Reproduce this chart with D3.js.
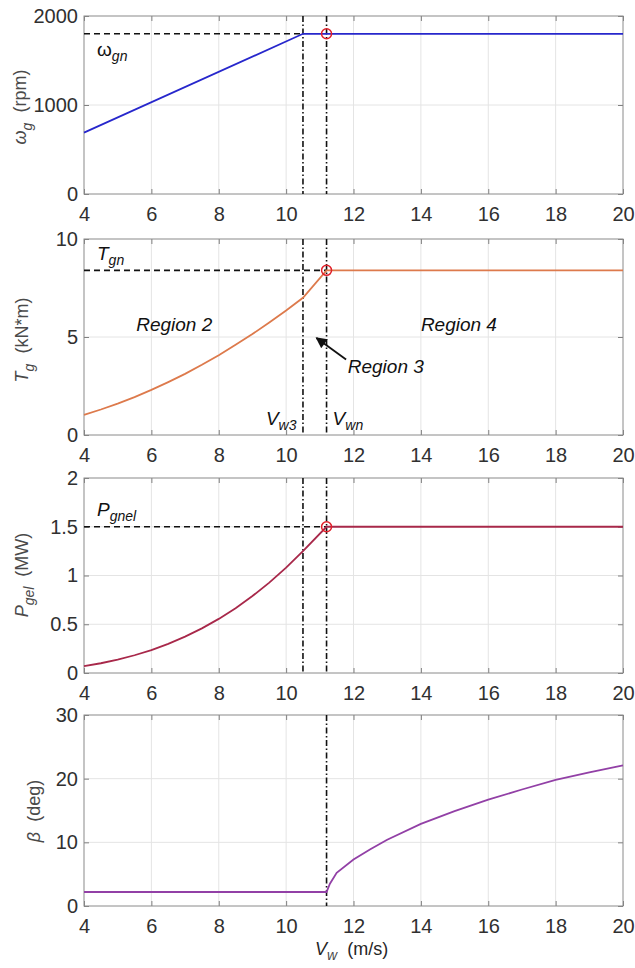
<!DOCTYPE html>
<html>
<head>
<meta charset="utf-8">
<title>Generator speed, torque, power and pitch vs wind speed</title>
<script src="https://cdn.jsdelivr.net/npm/d3@7/dist/d3.min.js"></script>
<style>
body { margin: 0; background: #fff; }
svg text { font-family: "Liberation Sans", Arial, Helvetica, sans-serif; }
.grid line { stroke: #e4e4e4; stroke-width: 1; }
.axis path { display: none; }
.axis line { stroke: #808080; }
.axis text { fill: #303030; font-size: 20px; }
.box { fill: none; stroke: #8a8a8a; stroke-width: 1; }
.ylabel { fill: #4a4a4a; font-size: 18px; }
.note { fill: #111; font-size: 19px; font-style: italic; }
</style>
</head>
<body>
<script>
// x axis (wind speed, m/s)
var windTicks = [4, 6, 8, 10, 12, 14, 16, 18, 20];
var vw3 = 10.5, vwn = 11.2;

// generator speed
var speedWind = [4, 10.5, 20];
var speedRpm = [690, 1800, 1800];
var ratedSpeed = 1800;
var speedTicks = [0, 1000, 2000];

// generator torque
var torqueWind = [4, 4.5, 5, 5.5, 6, 6.5, 7, 7.5, 8, 8.5, 9, 9.5, 10, 10.5, 11.2, 20];
var torqueKNm = [1.03, 1.3, 1.6, 1.93, 2.3, 2.7, 3.12, 3.58, 4.07, 4.6, 5.15, 5.74, 6.35, 7.0, 8.4, 8.4];
var ratedTorque = 8.4;
var torqueTicks = [0, 5, 10];

// electrical power
var powerWind = [4, 4.5, 5, 5.5, 6, 6.5, 7, 7.5, 8, 8.5, 9, 9.5, 10, 10.5, 11.2, 20];
var powerMW = [0.07, 0.1, 0.137, 0.182, 0.235, 0.299, 0.373, 0.458, 0.555, 0.665, 0.789, 0.927, 1.081, 1.25, 1.5, 1.5];
var ratedPower = 1.5;
var powerTicks = [0, 0.5, 1, 1.5, 2];

// pitch angle
var pitchWind = [4, 11.2, 11.3, 11.5, 12, 12.5, 13, 14, 15, 16, 17, 18, 19, 20];
var pitchDeg = [2.2, 2.2, 3.5, 5.2, 7.3, 8.9, 10.4, 12.9, 14.9, 16.7, 18.3, 19.8, 21.0, 22.1];
var pitchTicks = [0, 10, 20, 30];

var width = 635, height = 968,
    left = 84, right = 623;

var svg = d3.select("body").append("svg")
        .attr("width", width)
        .attr("height", height);

svg.append("defs").append("marker")
        .attr("id", "arrow")
        .attr("viewBox", "0 0 10 10")
        .attr("refX", 9).attr("refY", 5)
        .attr("markerWidth", 12).attr("markerHeight", 11)
        .attr("markerUnits", "userSpaceOnUse")
        .attr("orient", "auto")
        .append("path")
        .attr("d", "M0,0 L10,5 L0,10 z")
        .attr("fill", "#111");

var x = d3.scaleLinear().domain([4, 20]).range([left, right]);
var plain = function (d) { return String(d); };

function panel(top, bottom, yMax, yTicks) {
    var y = d3.scaleLinear().domain([0, yMax]).range([bottom, top]);
    var g = svg.append("g");

    var grid = g.append("g").attr("class", "grid");
    grid.selectAll("line.v").data(windTicks.slice(1, -1)).enter().append("line")
            .attr("x1", x).attr("x2", x).attr("y1", top).attr("y2", bottom);
    grid.selectAll("line.h").data(yTicks.slice(1, -1)).enter().append("line")
            .attr("x1", left).attr("x2", right)
            .attr("y1", y).attr("y2", y);

    g.append("g").attr("class", "axis")
            .attr("transform", "translate(0," + bottom + ")")
            .call(d3.axisBottom(x).tickValues(windTicks).tickSize(-5).tickPadding(13).tickFormat(plain));
    g.append("g").attr("class", "axis")
            .attr("transform", "translate(0," + top + ")")
            .call(d3.axisTop(x).tickValues(windTicks).tickSize(-5).tickFormat(""));
    g.append("g").attr("class", "axis")
            .attr("transform", "translate(" + left + ",0)")
            .call(d3.axisLeft(y).tickValues(yTicks).tickSize(-5).tickPadding(6).tickFormat(plain));
    g.append("g").attr("class", "axis")
            .attr("transform", "translate(" + right + ",0)")
            .call(d3.axisRight(y).tickValues(yTicks).tickSize(-5).tickFormat(""));

    g.append("rect").attr("class", "box")
            .attr("x", left).attr("y", top)
            .attr("width", right - left).attr("height", bottom - top);

    return {g: g, y: y, top: top, bottom: bottom};
}

function curve(p, xs, ys, color) {
    var line = d3.line()
            .x(function (d, i) { return x(xs[i]); })
            .y(function (d) { return p.y(d); });
    p.g.append("path")
            .attr("d", line(ys))
            .attr("fill", "none")
            .attr("stroke", color)
            .attr("stroke-width", 1.8);
}

function vline(p, v) {
    p.g.append("line")
            .attr("x1", x(v)).attr("x2", x(v))
            .attr("y1", p.top).attr("y2", p.bottom)
            .attr("stroke", "#111").attr("stroke-width", 1.6)
            .attr("stroke-dasharray", "6,2.5,1.5,2.5");
}

function hline(p, v0, v1, val) {
    p.g.append("line")
            .attr("x1", x(v0)).attr("x2", x(v1))
            .attr("y1", p.y(val)).attr("y2", p.y(val))
            .attr("stroke", "#111").attr("stroke-width", 1.6)
            .attr("stroke-dasharray", "6,4");
}

function knee(p, v, val) {
    p.g.append("circle")
            .attr("cx", x(v)).attr("cy", p.y(val)).attr("r", 5)
            .attr("fill", "none").attr("stroke", "#e0202a").attr("stroke-width", 1.5);
}

function ylabel(cx, cy, sym, sub, unit) {
    var t = svg.append("text").attr("class", "ylabel")
            .attr("text-anchor", "middle")
            .attr("transform", "translate(" + cx + "," + cy + ") rotate(-90)");
    t.append("tspan").text(sym).attr("font-style", "italic");
    if (sub) t.append("tspan").text(sub).attr("font-style", "italic")
            .attr("font-size", "14px").attr("dy", 6);
    t.append("tspan").text("\u00a0 " + unit).attr("dy", sub ? -6 : 0);
}

function note(px, py, main, sub, italicMain) {
    var t = svg.append("text").attr("class", "note")
            .attr("x", px).attr("y", py);
    t.append("tspan").text(main).attr("font-style", italicMain === false ? "normal" : "italic");
    if (sub) t.append("tspan").text(sub).attr("font-size", "14px").attr("dy", 5);
    return t;
}

// ---- panel 1: generator speed
var p1 = panel(16, 194, 2000, speedTicks);
hline(p1, 4, vw3, ratedSpeed);
vline(p1, vw3);
vline(p1, vwn);
curve(p1, speedWind, speedRpm, "#2727cc");
knee(p1, vwn, ratedSpeed);
note(97, p1.y(ratedSpeed) + 22, "\u03c9", "gn", false).attr("font-family", "'DejaVu Serif', serif");
ylabel(26, 107, "\u03c9", "g", "(rpm)");

// ---- panel 2: generator torque
var p2 = panel(239, 435, 10, torqueTicks);
hline(p2, 4, vwn, ratedTorque);
vline(p2, vw3);
vline(p2, vwn);
curve(p2, torqueWind, torqueKNm, "#dd7a4c");
knee(p2, vwn, ratedTorque);
note(97, p2.y(ratedTorque) - 10, "T", "gn");
note(x(5.55), p2.y(5.3), "Region 2");
note(x(14), p2.y(5.3), "Region 4");
note(x(11.83), p2.y(3.15), "Region 3");
p2.g.append("line")
        .attr("x1", x(11.78)).attr("y1", p2.y(3.85))
        .attr("x2", x(10.9)).attr("y2", p2.y(4.95))
        .attr("stroke", "#111").attr("stroke-width", 1.8)
        .attr("marker-end", "url(#arrow)");
note(x(9.4), p2.y(0.5), "V", "w3");
note(x(11.38), p2.y(0.5), "V", "wn");
ylabel(28, 340, "T", "g", "(kN*m)");

// ---- panel 3: electrical power
var p3 = panel(478, 673, 2, powerTicks);
hline(p3, 4, vwn, ratedPower);
vline(p3, vw3);
vline(p3, vwn);
curve(p3, powerWind, powerMW, "#a8284a");
knee(p3, vwn, ratedPower);
note(97, p3.y(ratedPower) - 11, "P", "gnel");
ylabel(28, 575, "P", "gel", "(MW)");

// ---- panel 4: pitch angle
var p4 = panel(715, 906, 30, pitchTicks);
vline(p4, vwn);
curve(p4, pitchWind, pitchDeg, "#9240a6");
ylabel(40, 811, "\u03b2", null, "(deg)");

// x label
var xl = svg.append("text").attr("class", "ylabel")
        .attr("x", 315).attr("y", 955);
xl.append("tspan").text("V").attr("font-style", "italic").attr("fill", "#262626");
xl.append("tspan").text("w").attr("font-style", "italic").attr("font-size", "14px").attr("dy", 5);
xl.append("tspan").text("\u00a0 (m/s)").attr("dy", -5).attr("fill", "#262626");
</script>
</body>
</html>
